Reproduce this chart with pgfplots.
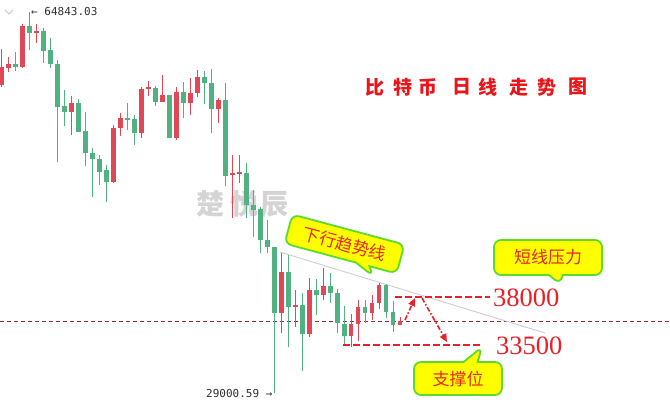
\documentclass[border=0pt]{standalone}
\usepackage{pgfplots}
\pgfplotsset{compat=1.18}
\usepackage{pgfplotstable}
\usepackage{fontspec}
\usetikzlibrary{shapes.callouts,arrows.meta}
\setmainfont{Liberation Sans}
\newfontfamily\cjk{Noto Sans CJK SC}
\newfontfamily\mono{DejaVu Sans Mono}
\newfontfamily\numserif{Liberation Serif}
\definecolor{cred}{RGB}{224,72,88}
\definecolor{cgreen}{RGB}{80,178,128}
\definecolor{pline}{RGB}{150,40,40}
\definecolor{lvl}{RGB}{232,32,40}
\definecolor{ctext}{RGB}{232,40,30}
\definecolor{ttl}{RGB}{235,20,25}
\definecolor{cyel}{RGB}{255,255,0}
\definecolor{cbord}{RGB}{90,220,40}
\definecolor{wm}{RGB}{212,212,212}
\definecolor{trend}{RGB}{212,202,210}
\definecolor{lbl}{RGB}{50,50,50}

% i open high low close
\pgfplotstableread{
i o h l c
1 57976 61363 57788 59669
2 59575 60610 59199 59952
4 59669 63714 59575 63526
6 62868 63714 61927 63056
11 55436 56941 53272 56283
17 48851 54213 48757 53931
18 53931 55342 53178 54872
21 53461 57788 52990 57600
22 57600 58352 56941 57788
24 56377 58917 56377 57035
26 52990 57788 52802 57318
28 56283 58635 55154 57223
29 57223 59387 56847 58729
32 55718 56753 54401 56565
34 49510 51391 45465 49698
35 49604 51391 48757 49792
41 36528 42172 34647 40385
43 37092 38692 35211 37281
45 34553 39820 34270 38692
47 38221 40761 37751 39068
51 34364 36434 33330 35493
52 35493 37751 33894 37092
54 36528 38221 35870 37469
55 37469 39350 36904 39162
58 35399 36152 35399 35775
}\up

\pgfplotstableread{
i o h l c
3 59952 61080 59293 59669
5 63526 64843.03 61269 62868
7 63056 63338 60046 61174
8 61269 62397 59575 59952
9 59952 60328 50733 55906
10 56001 57506 54119 55436
12 56283 56659 53555 53555
13 53649 55436 50356 51579
14 51579 52050 47440 51015
15 51015 51391 48569 49792
16 49980 50450 46970 48851
19 54872 56283 53743 54684
20 54778 55154 52332 53461
23 57694 57882 56001 56377
25 57035 57035 52990 52990
27 57318 58258 54872 56283
30 58729 59293 56189 58164
31 58164 59481 53461 55718
33 56565 58164 48475 49416
36 49698 50639 45465 46688
37 46688 48099 43677 46217
38 46311 46499 42172 43395
39 43395 45277 42172 42737
40 42737 42737 29000.59 36528
42 40385 41984 33330 37092
44 37281 38409 31072 34553
46 38692 39726 36340 38221
48 39068 40291 37469 38409
49 38409 38786 34647 35587
50 35493 37187 33518 34364
53 37092 37751 35587 36528
56 39162 39256 36058 36622
57 36622 37657 34741 35399
}\down

\pgfplotsset{candle/.style={draw=none, mark=none, error bars/.cd, y dir=plus, y explicit, error mark=none}}

\begin{document}
\begin{tikzpicture}
\useasboundingbox[fill=white] (0,0) rectangle (670pt,418pt);
% watermark (behind the chart)
\begin{scope}[shift={(0pt,418pt)}, x=1pt, y=-1pt]
\node[text=wm, font=\cjk\bfseries\fontsize{28}{28}\selectfont] at (210,204) {楚};
\node[text=wm, font=\cjk\bfseries\fontsize{28}{28}\selectfont] at (244,204) {悦};
\node[text=wm, font=\cjk\bfseries\fontsize{28}{28}\selectfont] at (274,204) {辰};
\end{scope}
\begin{axis}[name=ax, at={(0,0)}, anchor=south west,
  width=670pt, height=418pt, scale only axis, hide axis, clip=false,
  xmin=0.757, xmax=96.61, ymin=26651, ymax=65972]
% current price line
\addplot[pline, line width=0.7pt, dash pattern=on 4pt off 3pt] coordinates {(0.757,35775) (96.61,35775)};
% trend line
\addplot[trend, line width=0.9pt] coordinates {(40.81,42266) (78.73,34647)};
% wicks
\addplot[candle, error bar style={line width=1pt, draw=cred}]
  table[x=i, y=l, y error plus expr=\thisrow{h}-\thisrow{l}] {\up};
\addplot[candle, error bar style={line width=1pt, draw=cgreen}]
  table[x=i, y=l, y error plus expr=\thisrow{h}-\thisrow{l}] {\down};
% bodies
\addplot[candle, error bar style={line width=4.6pt, draw=cred}]
  table[x=i, y=o, y error plus expr=\thisrow{c}-\thisrow{o}] {\up};
\addplot[candle, error bar style={line width=4.6pt, draw=cgreen}]
  table[x=i, y=c, y error plus expr=\thisrow{o}-\thisrow{c}] {\down};
% levels
\addplot[lvl, line width=2pt, dash pattern=on 7pt off 3pt] coordinates {(57.27,38000) (70.86,38000)};
\addplot[lvl, line width=2pt, dash pattern=on 7pt off 3pt] coordinates {(49.8,33500) (69.71,33500)};
% arrows
\addplot[lvl, line width=1.6pt, dash pattern=on 5pt off 2pt on 1.5pt off 2pt, -{Triangle[length=8pt,width=7pt]}] coordinates {(58.7,35869) (60.13,37939)};
\addplot[lvl, line width=1.6pt, dash pattern=on 5pt off 2pt on 1.5pt off 2pt, -{Triangle[length=8pt,width=7pt]}] coordinates {(61.13,37939) (64.7,33800)};
\end{axis}

\begin{scope}[shift={(ax.north west)}, x=1pt, y=-1pt]
% chevron
\draw[gray!45, line width=0.8pt] (5,10)--(9,14)--(13,10);
% extreme labels
\node[anchor=west, inner sep=0pt, text=lbl, font=\mono\fontsize{11}{11}\selectfont] at (31,12) {← 64843.03};
\node[anchor=west, inner sep=0pt, text=lbl, font=\mono\fontsize{11}{11}\selectfont] at (206,393) {29000.59 →};
% title
\foreach \ch/\xx in {比/375,特/403,币/428,日/462,线/488,走/519,势/547,图/578}
  \node[text=ttl, font=\cjk\bfseries\fontsize{19}{19}\selectfont] at (\xx,87) {\ch};
% callouts
\node[rectangle callout, callout absolute pointer={(373,276)}, callout pointer width=14pt,
  fill=cyel, draw=cbord, line width=1.8pt, rounded corners=7pt, rotate=-15,
  minimum width=116pt, minimum height=30pt, inner sep=0pt, text=ctext,
  font=\cjk\fontsize{17}{17}\selectfont] at (344.5,244) {下行趋势线};
\node[rectangle callout, callout absolute pointer={(560,284)}, callout pointer width=14pt,
  fill=cyel, draw=cbord, line width=1.8pt, rounded corners=7pt,
  minimum width=108pt, minimum height=35pt, inner sep=0pt, text=ctext,
  font=\cjk\fontsize{17}{17}\selectfont] at (548,257.5) {短线压力};
\node[rectangle callout, callout absolute pointer={(482,347)}, callout pointer width=14pt,
  fill=cyel, draw=cbord, line width=1.8pt, rounded corners=7pt,
  minimum width=88pt, minimum height=33pt, inner sep=0pt, text=ctext,
  font=\cjk\fontsize{17}{17}\selectfont] at (458,378.5) {支撑位};
% level labels
\node[anchor=west, inner sep=0pt, text=lvl, font=\numserif\fontsize{26.5}{26.5}\selectfont] at (493,298) {38000};
\node[anchor=west, inner sep=0pt, text=lvl, font=\numserif\fontsize{26.5}{26.5}\selectfont] at (496,346) {33500};
\end{scope}
\end{tikzpicture}
\end{document}
